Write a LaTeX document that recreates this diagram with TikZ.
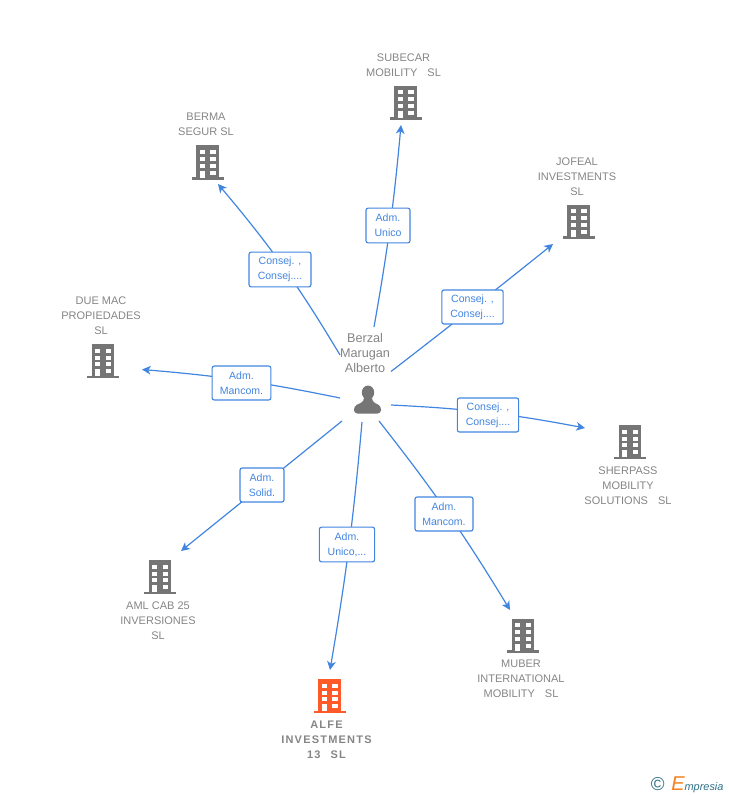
\documentclass[tikz,border=0pt]{standalone}
\usepackage{fontspec}
\setmainfont{Liberation Sans}
\usetikzlibrary{arrows.meta}
\definecolor{linkblue}{HTML}{4285E0}
\definecolor{namegray}{HTML}{858585}
\definecolor{icongray}{HTML}{757575}
\definecolor{alfeorange}{HTML}{FF5A2A}
\definecolor{logoteal}{HTML}{2F6F86}
\definecolor{logoorange}{HTML}{F58220}
\newcommand\namegap{\hspace{7.5pt}}
\tikzset{
  tiplink/.style={line width=0.9pt, linkblue, -{Stealth[length=6.5pt,width=6.5pt,inset=1.8pt]}},
  rolebox/.style={draw=linkblue, line width=0.85pt, fill=white, rounded corners=1.6pt, inner sep=0pt,
    text=linkblue, align=center, font=\fontsize{7.9}{11.25}\selectfont},
  namelabel/.style={text=namegray, align=center, inner sep=0pt, font=\fontsize{8.25}{11.25}\selectfont},
  pics/building/.style={code={
    \fill[pic actions] (-11.3,-16) rectangle (11.3,16);
    \fill[pic actions] (-16,15.5) rectangle (16,18.2);
    \fill[white] (-8,-11.5) rectangle (-2.7,-7.5);
    \fill[white] (2.7,-11.5) rectangle (8,-7.5);
    \fill[white] (-8,-4.5) rectangle (-2.7,-0.5);
    \fill[white] (2.7,-4.5) rectangle (8,-0.5);
    \fill[white] (-8,2) rectangle (-2.7,6);
    \fill[white] (2.7,2) rectangle (8,6);
    \fill[white] (-8,9) rectangle (-2.7,16);
    \fill[white] (2.7,9) rectangle (8,13);
  }}
}
\begin{document}
\begin{tikzpicture}[x=0.75pt,y=-0.75pt]
    \useasboundingbox (0,0) rectangle (728,795);

    \coordinate (subecarStart) at (374,327);
    \coordinate (subecarTip) at (401,125);
    \coordinate (bermaStart) at (340,355);
    \coordinate (bermaTip) at (218,184);
    \coordinate (jofealStart) at (391,371.5);
    \coordinate (jofealTip) at (553,244);
    \coordinate (sherpassStart) at (391,405);
    \coordinate (sherpassTip) at (585,428);
    \coordinate (muberStart) at (379,421);
    \coordinate (muberTip) at (510,610);
    \coordinate (alfeStart) at (362,422);
    \coordinate (alfeTip) at (330,670);
    \coordinate (amlStart) at (342,421);
    \coordinate (amlTip) at (181,551);
    \coordinate (duemacStart) at (340,398);
    \coordinate (duemacTip) at (142,369.5);

    \draw[tiplink, bend right=2.4] (subecarStart) to (subecarTip);
    \draw[tiplink, bend right=4.6] (bermaStart) to (bermaTip);
    \draw[tiplink, bend right=0.5] (jofealStart) to (jofealTip);
    \draw[tiplink, bend left=4] (sherpassStart) to (sherpassTip);
    \draw[tiplink, bend left=3.4] (muberStart) to (muberTip);
    \draw[tiplink, bend left=2.3] (alfeStart) to (alfeTip);
    \draw[tiplink] (amlStart) to (amlTip);
    \draw[tiplink, bend right=3.4] (duemacStart) to (duemacTip);

    \node[rolebox, minimum width=33pt, minimum height=26pt] (subecarRole) at (388,225.5) {Adm.\\Unico};
    \node[rolebox, minimum width=46.5pt, minimum height=26pt] (bermaRole) at (280,269.5) {Consej. ,\\Consej....};
    \node[rolebox, minimum width=46pt, minimum height=25.5pt] (jofealRole) at (472.5,307) {Consej. ,\\Consej....};
    \node[rolebox, minimum width=46pt, minimum height=25.5pt] (sherpassRole) at (488,415) {Consej. ,\\Consej....};
    \node[rolebox, minimum width=43.5pt, minimum height=25.5pt] (muberRole) at (444,514) {Adm.\\Mancom.};
    \node[rolebox, minimum width=41.5pt, minimum height=26pt] (alfeRole) at (347,544.5) {Adm.\\Unico,...};
    \node[rolebox, minimum width=33pt, minimum height=25.5pt] (amlRole) at (262,485) {Adm.\\Solid.};
    \node[rolebox, minimum width=44pt, minimum height=25.5pt] (duemacRole) at (241.5,383) {Adm.\\Mancom.};

    \node[namelabel, font=\fontsize{9.5}{11.25}\selectfont] (berzal) at (365,353) {Berzal\\Marugan\\Alberto};
    \fill[icongray] (368,392.5) ellipse (6.2 and 7);
    \fill[icongray, rounded corners=2.5pt] (354,413.5) -- (354,406) -- (364,401.5) -- (364,396) -- (372,396) -- (372,401.5) -- (381,406) -- (381,413.5) -- cycle;

    \node[namelabel] (subecar) at (403.5,65) {SUBECAR\\MOBILITY\namegap SL};
    \node[namelabel] (berma) at (206,124) {BERMA\\SEGUR SL};
    \node[namelabel] (jofeal) at (577,176.5) {JOFEAL\\INVESTMENTS\\SL};
    \node[namelabel] (duemac) at (101,315.5) {DUE MAC\\PROPIEDADES\\SL};
    \node[namelabel] (sherpass) at (628,486) {SHERPASS\\MOBILITY\\SOLUTIONS\namegap SL};
    \node[namelabel] (aml) at (158,621) {AML CAB 25\\INVERSIONES\\SL};
    \node[namelabel] (muber) at (521,679) {MUBER\\INTERNATIONAL\\MOBILITY\namegap SL};
    \node[namelabel, font=\fontsize{8.25}{11.25}\selectfont\bfseries\addfontfeatures{LetterSpace=11}] (alfe) at (326.5,740) {ALFE\\INVESTMENTS\\13\namegap SL};

    \pic[fill=icongray] (subecarIcon) at (405.5,102) {building};
    \pic[fill=icongray] (bermaIcon) at (207.5,161.5) {building};
    \pic[fill=icongray] (jofealIcon) at (578.5,220.5) {building};
    \pic[fill=icongray] (duemacIcon) at (103,360) {building};
    \pic[fill=icongray] (sherpassIcon) at (630,441) {building};
    \pic[fill=icongray] (amlIcon) at (160,576) {building};
    \pic[fill=icongray] (muberIcon) at (523,634.5) {building};
    \pic[fill=alfeorange] (alfeIcon) at (329.5,695) {building};

    \node[anchor=west, text=logoteal, inner sep=0pt, font=\fontsize{14}{14}\selectfont] (logoMark) at (650.5,784.5) {\textcopyright};
    \node[anchor=west, inner sep=0pt] (logoName) at (671,784.5) {\fontsize{15}{15}\selectfont\itshape\color{logoorange}E\fontsize{8.2}{10}\selectfont\color{logoteal}mpresia};
\end{tikzpicture}
\end{document}
